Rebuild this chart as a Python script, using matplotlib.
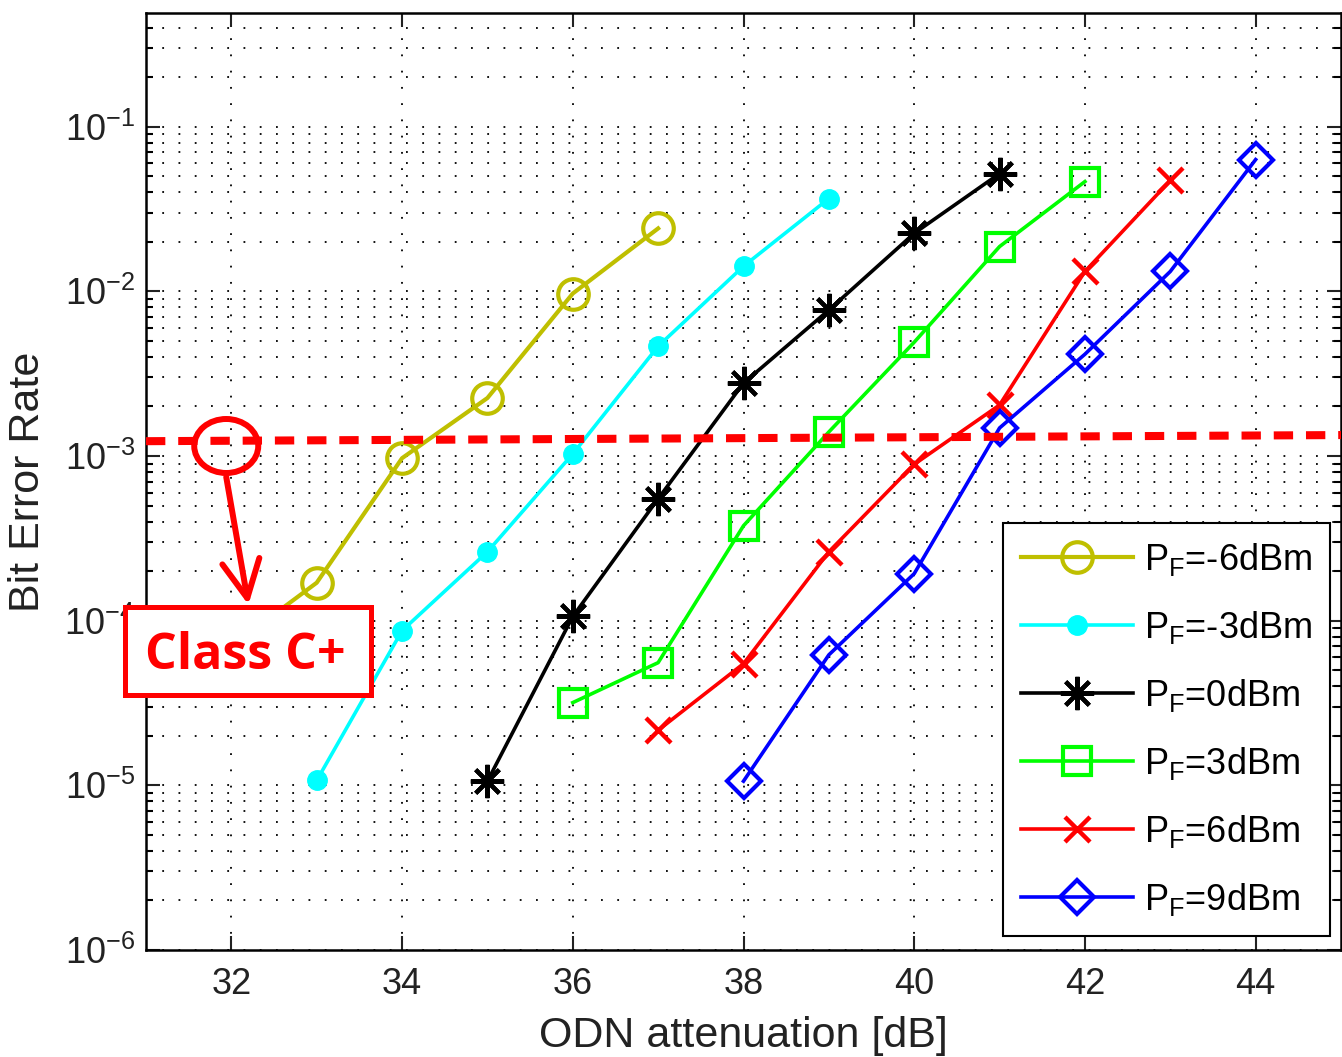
import matplotlib
matplotlib.use("Agg")
import matplotlib.pyplot as plt
from matplotlib.patches import Ellipse, Rectangle
from matplotlib.ticker import FixedLocator, FixedFormatter, LogLocator, NullFormatter

plt.rcParams['font.family'] = ['Liberation Sans', 'DejaVu Sans']
plt.rcParams['mathtext.fontset'] = 'custom'
plt.rcParams['mathtext.rm'] = 'Liberation Sans'
plt.rcParams['mathtext.it'] = 'Liberation Sans'

# ---------------- data ----------------
x_m6 = [32, 33, 34, 35, 36, 37]
ber_m6 = [7.0e-5, 1.70e-4, 9.7e-4, 2.25e-3, 9.7e-3, 2.41e-2]

x_m3 = [33, 34, 35, 36, 37, 38, 39]
ber_m3 = [1.07e-5, 8.7e-5, 2.62e-4, 1.03e-3, 4.64e-3, 1.42e-2, 3.66e-2]

x_0 = [35, 36, 37, 38, 39, 40, 41]
ber_0 = [1.06e-5, 1.06e-4, 5.5e-4, 2.77e-3, 7.7e-3, 2.25e-2, 5.19e-2]

x_3 = [36, 37, 38, 39, 40, 41, 42]
ber_3 = [3.18e-5, 5.56e-5, 3.77e-4, 1.40e-3, 4.91e-3, 1.87e-2, 4.64e-2]

x_6 = [37, 38, 39, 40, 41, 42, 43]
ber_6 = [2.16e-5, 5.48e-5, 2.62e-4, 8.9e-4, 2.04e-3, 1.32e-2, 4.71e-2]

x_9 = [38, 39, 40, 41, 42, 43, 44]
ber_9 = [1.06e-5, 6.2e-5, 1.93e-4, 1.48e-3, 4.15e-3, 1.32e-2, 6.31e-2]

labels = [r'P$_\mathregular{F}$=-6dBm', r'P$_\mathregular{F}$=-3dBm', r'P$_\mathregular{F}$=0dBm',
          r'P$_\mathregular{F}$=3dBm', r'P$_\mathregular{F}$=6dBm', r'P$_\mathregular{F}$=9dBm']

threshold_x = [31, 45]
threshold_ber = [1.23e-3, 1.34e-3]

xticks = [32, 34, 36, 38, 40, 42, 44]
xticklabels = ['32', '34', '36', '38', '40', '42', '44']
yticks = [1e-6, 1e-5, 1e-4, 1e-3, 1e-2, 1e-1]
yticklabels = [r'$\mathregular{10^{-6}}$', r'$\mathregular{10^{-5}}$', r'$\mathregular{10^{-4}}$',
               r'$\mathregular{10^{-3}}$', r'$\mathregular{10^{-2}}$', r'$\mathregular{10^{-1}}$']

# ---------------- figure ----------------
W, H = 1342, 1057
fig = plt.figure(figsize=(W / 100, H / 100), dpi=100)
ax = fig.add_axes([146 / W, 1 - 950 / H, (1341 - 146) / W, (950 - 13) / H])
ax.set_yscale('log')
ax.set_xlim(31, 45)
ax.set_ylim(1e-6, 0.49)

styles = [
    dict(color='#BFBF00', marker='o', ms=22, mfc='none', mew=3, lw=3),
    dict(color='#00FFFF', marker='o', ms=14, mfc='#00FFFF', mew=1, lw=2.6),
    dict(color='black', marker=(8, 2, 0), ms=24, mew=3, lw=2.6),
    dict(color='#00FF00', marker='s', ms=20, mfc='none', mew=3, lw=2.6),
    dict(color='red', marker='x', ms=18, mew=3.2, lw=2.6),
    dict(color='blue', marker='D', ms=17, mfc='none', mew=3, lw=2.6),
]
series = [(x_m6, ber_m6), (x_m3, ber_m3), (x_0, ber_0), (x_3, ber_3), (x_6, ber_6), (x_9, ber_9)]
handles = []
for (xs, ys), st, lab in zip(series, styles, labels):
    h, = ax.plot(xs, ys, label=lab, zorder=3, **st)
    handles.append(h)

# threshold line
ax.plot(threshold_x, threshold_ber, color='red', lw=5.8, linestyle=(0, (2.4, 1.6)),
        zorder=4, clip_on=False)

# ticks and grid
ax.xaxis.set_major_locator(FixedLocator(xticks))
ax.xaxis.set_major_formatter(FixedFormatter(xticklabels))
ax.yaxis.set_major_locator(FixedLocator(yticks))
ax.yaxis.set_major_formatter(FixedFormatter(yticklabels))
ax.yaxis.set_minor_locator(LogLocator(base=10, subs=range(2, 10), numticks=20))
ax.yaxis.set_minor_formatter(NullFormatter())
ax.tick_params(which='both', direction='in', top=True, right=True, width=1.5, color='black')
ax.tick_params(which='major', length=10, labelsize=26, colors='#222222')
ax.tick_params(which='minor', length=5)
ax.tick_params(axis='x', which='major', pad=12)
ax.tick_params(axis='y', which='major', pad=8)
ax.grid(True, which='major', axis='x', color='black', lw=1.3, linestyle=(0, (1, 8)))
ax.grid(True, which='both', axis='y', color='black', lw=1.3, linestyle=(0, (1, 8)))
ax.set_axisbelow(True)
for sp in ax.spines.values():
    sp.set_linewidth(1.8)

ax.set_xlabel('ODN attenuation [dB]', fontsize=31, color='#222222', labelpad=10)
ax.set_ylabel('Bit Error Rate', fontsize=31, color='#222222', labelpad=12)

# legend
leg = ax.legend(handles=handles, loc='lower right', fontsize=26, frameon=True, fancybox=False,
                edgecolor='black', framealpha=1, borderpad=0.5, labelspacing=0.86,
                handlelength=3.1, handletextpad=0.3, borderaxespad=0.0,
                bbox_to_anchor=((1330 - 146) / 1195, (950 - 936) / 937))
leg.get_frame().set_linewidth(1.5)
leg.set_zorder(6)

# annotations (ellipse, arrow, box)
fig.canvas.draw()
def to_fig(xd, yd):
    px, py = ax.transData.transform((xd, yd))
    return px / W, py / H

cx, cy = to_fig(31.94, 1.15e-3)
ell = Ellipse((cx, cy), 64 / W, 54 / H, transform=fig.transFigure, fill=False,
              ec='red', lw=4.3, zorder=7)
fig.patches.append(ell)

ax.annotate('', xy=(32.2, 1.25e-4), xytext=(31.94, 7.45e-4), xycoords='data',
            arrowprops=dict(arrowstyle='->,head_length=0.9,head_width=0.45', color='red',
                            lw=4.3, shrinkA=0, shrinkB=0, mutation_scale=30),
            zorder=7, annotation_clip=False)

rect = Rectangle(((125 - 146) / 1195, (950 - 695) / 937), (371 - 125) / 1195, (695 - 607) / 937,
                 transform=ax.transAxes, fc='white', ec='red', lw=3.6, zorder=8, clip_on=False)
ax.add_patch(rect)
ax.text((245 - 146) / 1195, (950 - 669) / 937, 'Class C+', transform=ax.transAxes,
        ha='center', va='baseline', color='red', fontsize=36, fontweight='bold',
        family=['Open Sans', 'DejaVu Sans'], zorder=9)

fig.savefig('out.png', dpi=100)
